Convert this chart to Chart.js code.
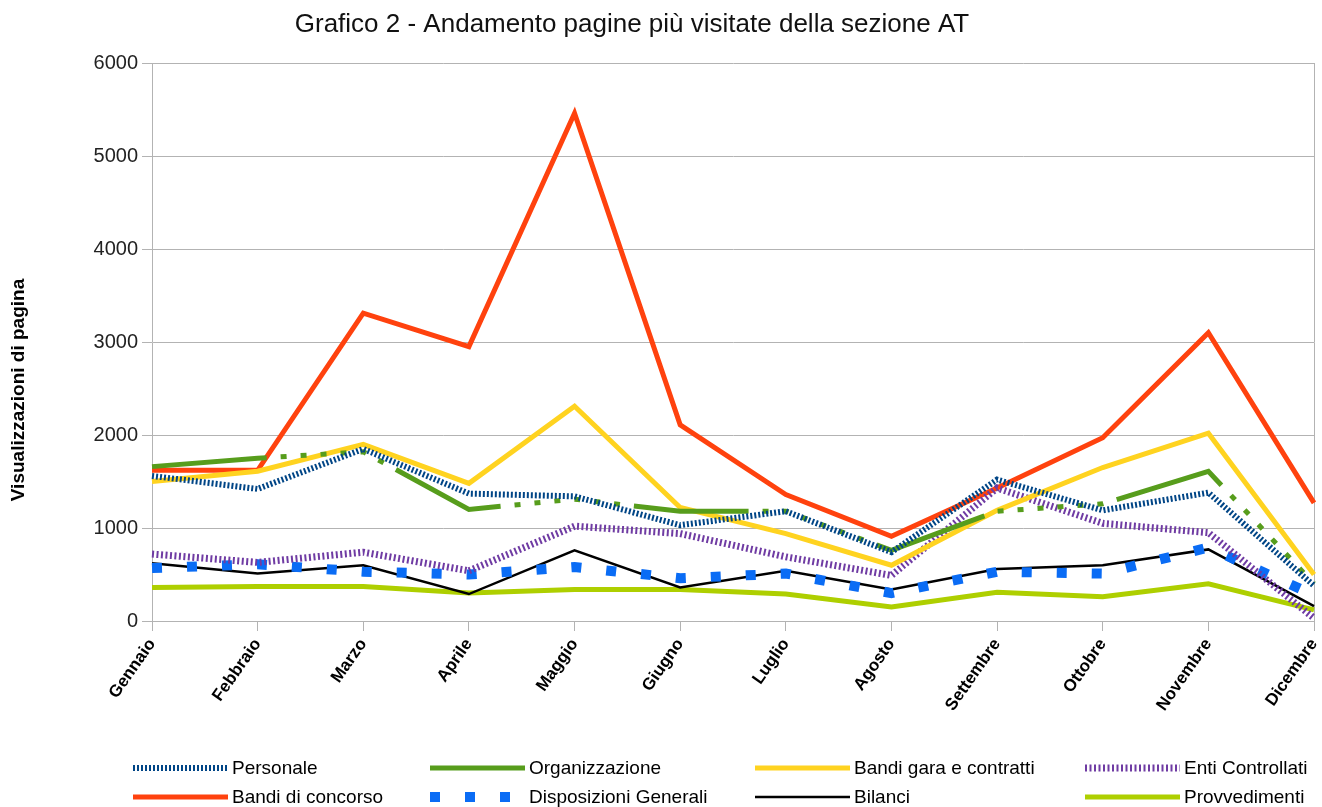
<!DOCTYPE html>
<html>
<head>
<meta charset="utf-8">
<script src="https://cdn.jsdelivr.net/npm/chart.js@4/dist/chart.umd.min.js"></script>
<style>
  body { margin: 0; background: #fff; }
  canvas { display: block; }
</style>
</head>
<body>
<canvas id="chart" width="1322" height="807"></canvas>
<script>
const months = ["Gennaio", "Febbraio", "Marzo", "Aprile", "Maggio", "Giugno", "Luglio", "Agosto", "Settembre", "Ottobre", "Novembre", "Dicembre"];
const personale = [1560, 1420, 1850, 1370, 1340, 1030, 1180, 740, 1520, 1190, 1380, 380];
const organizzazione = [1660, 1750, 1820, 1200, 1310, 1180, 1180, 760, 1180, 1260, 1610, 400];
const bandiGara = [1500, 1610, 1900, 1480, 2310, 1220, 940, 600, 1190, 1650, 2020, 500];
const entiControllati = [720, 630, 740, 540, 1020, 940, 690, 490, 1430, 1050, 950, 30];
const bandiConcorso = [1620, 1620, 3310, 2950, 5460, 2110, 1360, 910, 1430, 1970, 3100, 1270];
const disposizioni = [570, 610, 530, 500, 580, 460, 510, 300, 530, 510, 790, 280];
const bilanci = [620, 510, 600, 290, 760, 360, 540, 340, 560, 600, 770, 160];
const provvedimenti = [360, 370, 370, 300, 340, 340, 290, 150, 310, 260, 400, 120];

const FONT = "'Liberation Sans', Arial, sans-serif";

function line(label, data, color, width, dash) {
  return {
    label: label,
    data: data,
    borderColor: color,
    backgroundColor: color,
    borderWidth: width,
    borderDash: dash || [],
    pointRadius: 0,
    tension: 0,
    fill: false
  };
}

// title, legend in a fixed 4 x 2 grid and y title, placed where the original has them
const extras = {
  id: "extras",
  afterDraw(chart) {
    const ctx = chart.ctx;

    ctx.save();
    ctx.fillStyle = "#111";
    ctx.font = "26px " + FONT;
    ctx.textAlign = "center";
    ctx.textBaseline = "middle";
    ctx.fillText("Grafico 2 - Andamento pagine più visitate della sezione AT", 632, 25);
    ctx.restore();

    const markerX = [133, 430, 755, 1085];
    const rowY = [768, 797];
    chart.data.datasets.forEach((ds, i) => {
      const x = markerX[i % 4];
      const y = rowY[Math.floor(i / 4)];
      ctx.save();
      ctx.strokeStyle = ds.borderColor;
      ctx.lineWidth = ds.borderWidth;
      ctx.setLineDash(ds.label === "Organizzazione" ? [] : ds.borderDash);
      ctx.beginPath();
      ctx.moveTo(x, y);
      ctx.lineTo(x + 95, y);
      ctx.stroke();
      ctx.restore();
      ctx.save();
      ctx.fillStyle = "#000";
      ctx.font = "19px " + FONT;
      ctx.textBaseline = "middle";
      ctx.fillText(ds.label, x + 99, y + 1);
      ctx.restore();
    });

    ctx.save();
    ctx.translate(19, 390);
    ctx.rotate(-Math.PI / 2);
    ctx.fillStyle = "#000";
    ctx.font = "bold 19px " + FONT;
    ctx.textAlign = "center";
    ctx.textBaseline = "middle";
    ctx.fillText("Visualizzazioni di pagina", 0, 0);
    ctx.restore();
  }
};

const orgDash = [115, 14, 6, 14, 6, 14, 6, 14, 6, 14, 6, 14, 6, 14];

new Chart(document.getElementById("chart"), {
  type: "line",
  data: {
    labels: months,
    datasets: [
      line("Personale", personale, "#004586", 6, [2, 2]),
      line("Organizzazione", organizzazione, "#579d1c", 5, orgDash),
      line("Bandi gara e contratti", bandiGara, "#ffd320", 5),
      line("Enti Controllati", entiControllati, "#6f3ba3", 7, [2, 2.5]),
      line("Bandi di concorso", bandiConcorso, "#ff420e", 5),
      line("Disposizioni Generali", disposizioni, "#0a6cf5", 10, [10, 25]),
      line("Bilanci", bilanci, "#000000", 2.5),
      line("Provvedimenti", provvedimenti, "#aecf00", 5)
    ]
  },
  options: {
    responsive: false,
    animation: false,
    layout: { padding: { left: 0, right: 8, top: 63, bottom: 86 } },
    plugins: {
      legend: { display: false },
      tooltip: { enabled: false },
      title: { display: false }
    },
    scales: {
      x: {
        offset: false,
        grid: { drawOnChartArea: false, drawTicks: true, tickLength: 10, color: "#b3b3b3" },
        border: { display: true, color: "#b3b3b3" },
        ticks: {
          autoSkip: false,
          minRotation: 55,
          maxRotation: 55,
          padding: 4,
          color: "#000",
          font: { family: FONT, size: 17, weight: "bold" }
        },
        afterFit(scale) {
          scale.height = 100;
          scale.paddingRight = 0;
          scale.paddingLeft = 0;
        }
      },
      y: {
        min: 0,
        max: 6000,
        ticks: {
          stepSize: 1000,
          padding: 4,
          color: "#222",
          font: { family: FONT, size: 20 },
          callback: (v) => String(v)
        },
        grid: { color: "#b3b3b3", tickLength: 10 },
        border: { color: "#b3b3b3" },
        afterFit(scale) { scale.width = 152; }
      },
      y2: {
        position: "right",
        ticks: { display: false },
        grid: { display: false },
        border: { display: true, color: "#b3b3b3" },
        afterFit(scale) { scale.width = 0; }
      }
    }
  },
  plugins: [extras]
});
</script>
</body>
</html>
